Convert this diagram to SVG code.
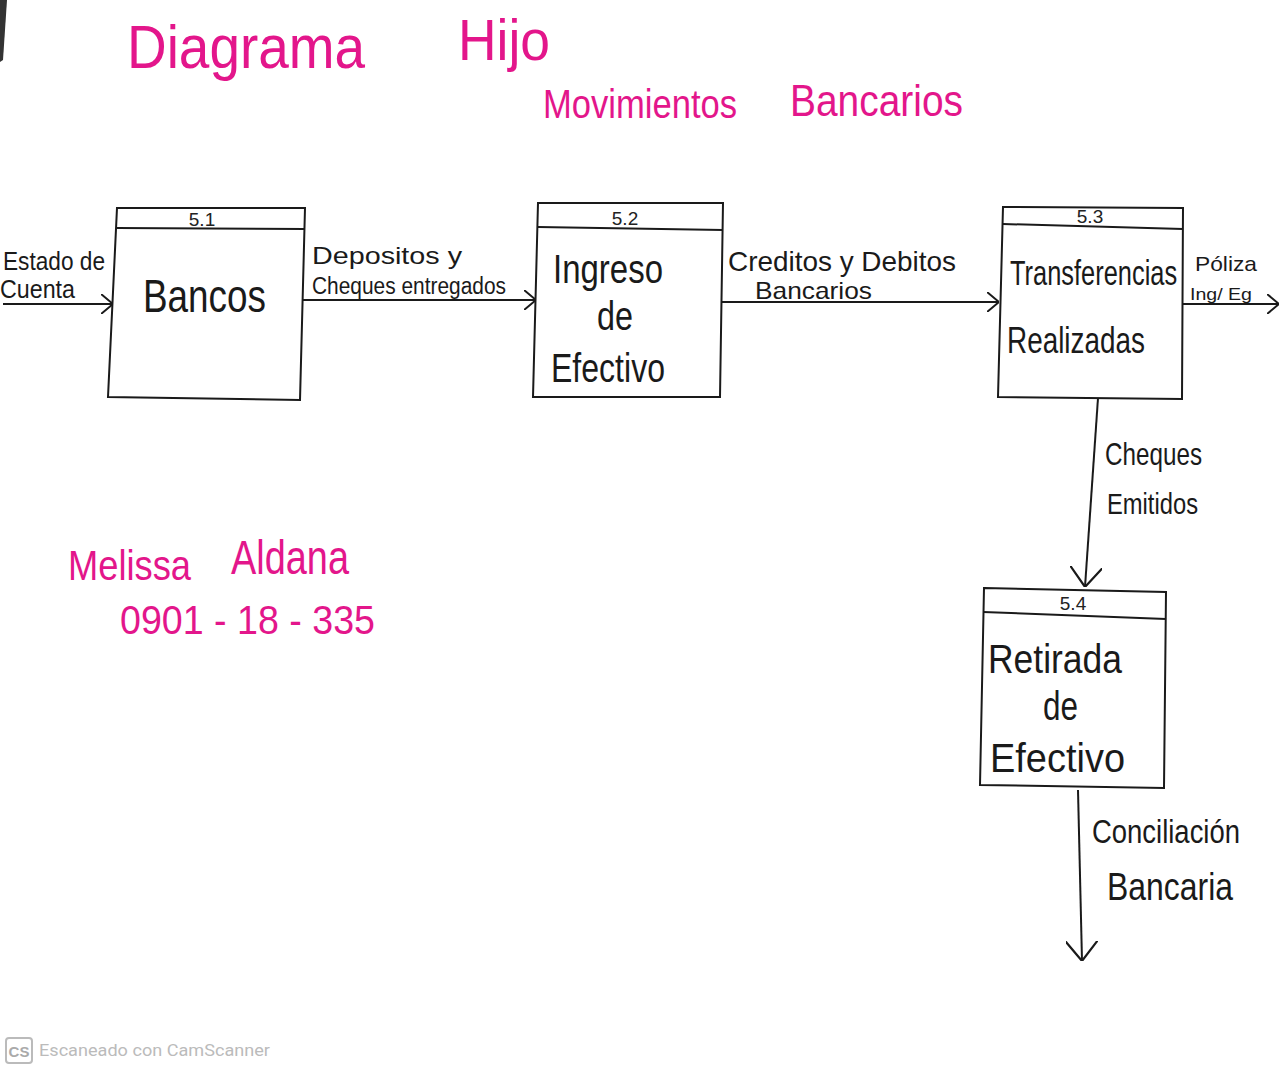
<svg xmlns="http://www.w3.org/2000/svg" width="1280" height="1071" viewBox="0 0 1280 1071">
<style>
.box{fill:none;stroke:#1a1a1a;stroke-width:2}
.hdr{fill:none;stroke:#1a1a1a;stroke-width:2}
.flow{fill:none;stroke:#1a1a1a;stroke-width:2}
.num{font-family:"Liberation Sans",sans-serif;font-size:19px;fill:#222;text-anchor:middle}
.lbl{font-family:"Liberation Sans",sans-serif;fill:#1a1a1a}
.pink{font-family:"Liberation Sans",sans-serif;fill:#e3168b}
</style>
<defs>
<marker id="arr" viewBox="0 0 12 20" refX="12" refY="10" markerWidth="12" markerHeight="20" markerUnits="userSpaceOnUse" orient="auto">
<path d="M0,0 L12,10 L0,20" fill="none" stroke="#1a1a1a" stroke-width="2"/>
</marker>
<marker id="arrL" viewBox="0 0 20 32" refX="20" refY="16" markerWidth="20" markerHeight="32" markerUnits="userSpaceOnUse" orient="auto">
<path d="M0,0 L20,16 L0,32" fill="none" stroke="#1a1a1a" stroke-width="2.2"/>
</marker>
</defs>
<rect width="1280" height="1071" fill="#ffffff"/>
<path d="M0,0 L7,0 L3,60 L0,62 Z" fill="#333"/>

<g id="title">
<text class="pink" x="127" y="68" font-size="62" textLength="238" lengthAdjust="spacingAndGlyphs">Diagrama</text>
<text class="pink" x="458" y="60" font-size="58" textLength="92" lengthAdjust="spacingAndGlyphs">Hijo</text>
<text class="pink" x="543" y="118" font-size="40" textLength="194" lengthAdjust="spacingAndGlyphs">Movimientos</text>
<text class="pink" x="790" y="116" font-size="44" textLength="173" lengthAdjust="spacingAndGlyphs">Bancarios</text>
</g>
<g id="author">
<text class="pink" x="68" y="580" font-size="42" textLength="123" lengthAdjust="spacingAndGlyphs">Melissa</text>
<text class="pink" x="231" y="574" font-size="48" textLength="118" lengthAdjust="spacingAndGlyphs">Aldana</text>
<text class="pink" x="120" y="634" font-size="40" textLength="255" lengthAdjust="spacingAndGlyphs">0901 - 18 - 335</text>
</g>

<g id="connectors">
<g id="c-estado">
<line class="flow" x1="3" y1="304" x2="113" y2="304" marker-end="url(#arr)"/>
<text class="lbl" x="3" y="270" font-size="26" textLength="102" lengthAdjust="spacingAndGlyphs">Estado de</text>
<text class="lbl" x="0" y="298" font-size="26" textLength="75" lengthAdjust="spacingAndGlyphs">Cuenta</text>
</g>
<g id="c-depositos">
<line class="flow" x1="302" y1="300" x2="536" y2="300" stroke="#777" marker-end="url(#arr)"/>
<text class="lbl" x="312" y="264" font-size="24" textLength="150" lengthAdjust="spacingAndGlyphs">Depositos  y</text>
<text class="lbl" x="312" y="294" font-size="23" textLength="194" lengthAdjust="spacingAndGlyphs">Cheques entregados</text>
</g>
<g id="c-creditos">
<line class="flow" x1="722" y1="302" x2="999" y2="302" marker-end="url(#arr)"/>
<text class="lbl" x="728" y="271" font-size="28" textLength="228" lengthAdjust="spacingAndGlyphs">Creditos y Debitos</text>
<text class="lbl" x="755" y="299" font-size="24" textLength="117" lengthAdjust="spacingAndGlyphs">Bancarios</text>
</g>
<g id="c-poliza">
<line class="flow" x1="1183" y1="304" x2="1279" y2="304" marker-end="url(#arr)"/>
<text class="lbl" x="1195" y="271" font-size="21" textLength="62" lengthAdjust="spacingAndGlyphs">Póliza</text>
<text class="lbl" x="1190" y="300" font-size="17" textLength="62" lengthAdjust="spacingAndGlyphs">Ing/ Eg</text>
</g>
<g id="c-cheques">
<line class="flow" x1="1098" y1="398" x2="1085" y2="587" marker-end="url(#arrL)"/>
<text class="lbl" x="1105" y="465" font-size="32" textLength="97" lengthAdjust="spacingAndGlyphs">Cheques</text>
<text class="lbl" x="1107" y="514" font-size="30" textLength="91" lengthAdjust="spacingAndGlyphs">Emitidos</text>
</g>
<g id="c-conciliacion">
<line class="flow" x1="1078" y1="790" x2="1082" y2="961" marker-end="url(#arrL)"/>
<text class="lbl" x="1092" y="843" font-size="34" textLength="148" lengthAdjust="spacingAndGlyphs">Conciliación</text>
<text class="lbl" x="1107" y="900" font-size="38" textLength="126" lengthAdjust="spacingAndGlyphs">Bancaria</text>
</g>
</g>

<g id="node-5-1">
<polygon class="box" points="117,208 305,208 300,400 108,397"/>
<line class="hdr" x1="117" y1="228" x2="305" y2="229"/>
<text class="num" x="202" y="226">5.1</text>
<text class="lbl" x="143" y="312" font-size="46" textLength="123" lengthAdjust="spacingAndGlyphs">Bancos</text>
</g>

<g id="node-5-2">
<polygon class="box" points="538,203 723,203 720,397 533,397" stroke="#555"/>
<line class="hdr" x1="538" y1="227" x2="723" y2="230" stroke="#555"/>
<text class="num" x="625" y="225">5.2</text>
<text class="lbl" x="553" y="283" font-size="40" textLength="110" lengthAdjust="spacingAndGlyphs" fill="#444">Ingreso</text>
<text class="lbl" x="597" y="330" font-size="40" textLength="36" lengthAdjust="spacingAndGlyphs" fill="#444">de</text>
<text class="lbl" x="551" y="382" font-size="40" textLength="114" lengthAdjust="spacingAndGlyphs" fill="#444">Efectivo</text>
</g>

<g id="node-5-3">
<polygon class="box" points="1003,207 1183,208 1182,399 998,397"/>
<line class="hdr" x1="1003" y1="224" x2="1183" y2="229"/>
<text class="num" x="1090" y="223">5.3</text>
<text class="lbl" transform="translate(1010,285) scale(0.706,1)" x="0" y="0" font-size="36">Transferencias</text>
<text class="lbl" x="1007" y="353" font-size="36" textLength="138" lengthAdjust="spacingAndGlyphs">Realizadas</text>
</g>

<g id="node-5-4">
<polygon class="box" points="984,588 1166,592 1164,788 980,785"/>
<line class="hdr" x1="983" y1="612" x2="1166" y2="619"/>
<text class="num" x="1073" y="610">5.4</text>
<text class="lbl" x="988" y="673" font-size="40" textLength="134" lengthAdjust="spacingAndGlyphs">Retirada</text>
<text class="lbl" x="1043" y="720" font-size="40" textLength="35" lengthAdjust="spacingAndGlyphs">de</text>
<text class="lbl" x="990" y="772" font-size="40" textLength="135" lengthAdjust="spacingAndGlyphs">Efectivo</text>
</g>

<g id="watermark">
<rect x="6" y="1038" width="26" height="25" rx="3" fill="none" stroke="#bbb" stroke-width="2"/>
<text x="19" y="1057" font-family="Liberation Sans,sans-serif" font-size="15" font-weight="bold" fill="#aaa" text-anchor="middle">CS</text>
<text x="39" y="1056" font-family="Roboto,Liberation Sans,sans-serif" font-size="17" fill="#bbb" textLength="231" lengthAdjust="spacingAndGlyphs">Escaneado con CamScanner</text>
</g>
</svg>
